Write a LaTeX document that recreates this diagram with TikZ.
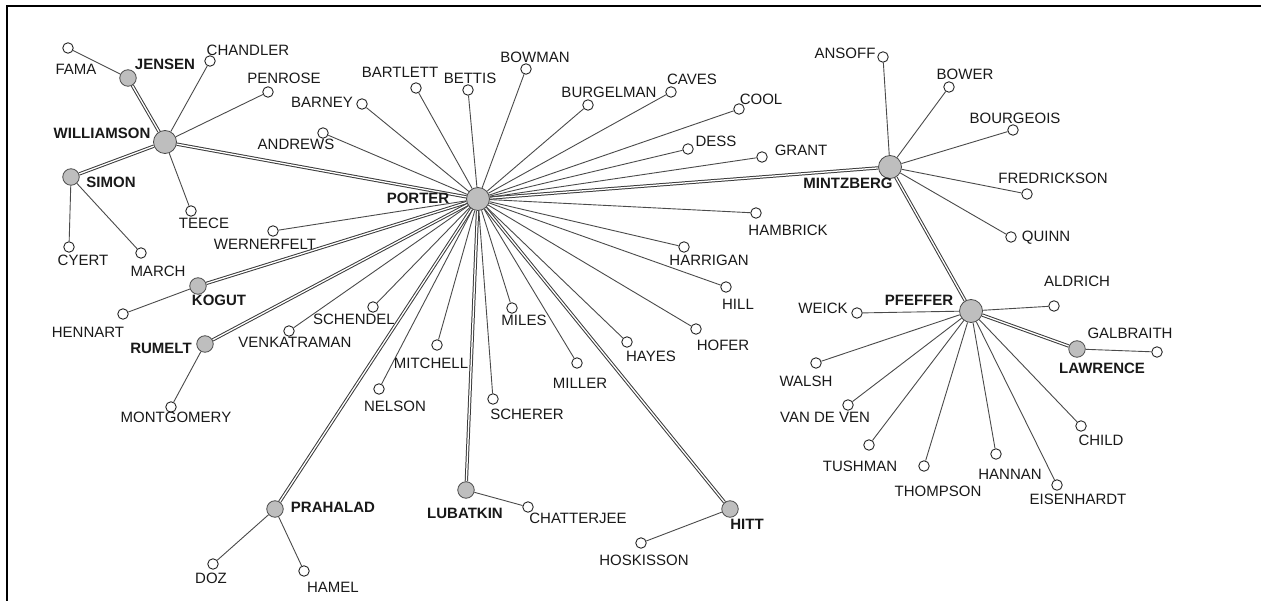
\documentclass[tikz,border=0pt]{standalone}
\usepackage{fontspec}
\setmainfont{Liberation Sans}
\usetikzlibrary{backgrounds}
\definecolor{nodegray}{HTML}{BEBEBE}
\definecolor{edgecol}{HTML}{4A4A4A}
\definecolor{dedgecol}{HTML}{3A3A3A}
\begin{document}
\begin{tikzpicture}[x=1pt,y=-1pt,
  hub/.style={circle,fill=nodegray,draw=edgecol,line width=0.8pt,minimum size=23pt,inner sep=0pt},
  sub/.style={circle,fill=nodegray,draw=edgecol,line width=0.8pt,minimum size=16.5pt,inner sep=0pt},
  leaf/.style={circle,fill=white,draw=black!85,line width=0.9pt,minimum size=10.5pt,inner sep=0pt},
  lab/.style={inner sep=0pt,text height=10.7pt,text depth=0pt,font=\fontsize{15}{15}\selectfont,text=black!90},
  blab/.style={lab,font=\fontsize{15}{15}\selectfont\bfseries},
  edge/.style={draw=edgecol,line width=0.9pt},
  dedge/.style={draw=dedgecol,line width=1pt,double=white,double distance=1.3pt}]
\useasboundingbox (0,0) rectangle (1261,601);
\draw[line width=2pt] (7,601) -- (7,6) -- (1261,6);
% hubs
\node[hub] (porter) at (478,199) {};
\node[hub] (williamson) at (165,142) {};
\node[hub] (mintzberg) at (890,167) {};
\node[hub] (pfeffer) at (971,311) {};
% sub hubs
\node[sub] (jensen) at (128,78) {};
\node[sub] (simon) at (71,177) {};
\node[sub] (kogut) at (198,286) {};
\node[sub] (rumelt) at (205,344) {};
\node[sub] (prahalad) at (275,509) {};
\node[sub] (lubatkin) at (466,490) {};
\node[sub] (hitt) at (730,509) {};
\node[sub] (lawrence) at (1077,349) {};
% leaves
\node[leaf] (fama) at (68,48) {};
\node[leaf] (chandler) at (210,61) {};
\node[leaf] (penrose) at (268,92) {};
\node[leaf] (barney) at (362,104) {};
\node[leaf] (bartlett) at (416,88) {};
\node[leaf] (andrews) at (323,133) {};
\node[leaf] (teece) at (191,211) {};
\node[leaf] (wernerfelt) at (273,231) {};
\node[leaf] (cyert) at (69,247) {};
\node[leaf] (march) at (141,253) {};
\node[leaf] (hennart) at (123,314) {};
\node[leaf] (montgomery) at (171,407) {};
\node[leaf] (venkatraman) at (289,331) {};
\node[leaf] (schendel) at (373,307) {};
\node[leaf] (mitchell) at (437,345) {};
\node[leaf] (nelson) at (379,389) {};
\node[leaf] (miles) at (512,308) {};
\node[leaf] (scherer) at (493,399) {};
\node[leaf] (miller) at (577,363) {};
\node[leaf] (hayes) at (627,342) {};
\node[leaf] (hofer) at (696,329) {};
\node[leaf] (chatterjee) at (528,507) {};
\node[leaf] (hoskisson) at (641,543) {};
\node[leaf] (bettis) at (468,90) {};
\node[leaf] (bowman) at (526,69) {};
\node[leaf] (burgelman) at (588,105) {};
\node[leaf] (caves) at (671,92) {};
\node[leaf] (cool) at (739,109) {};
\node[leaf] (dess) at (688,149) {};
\node[leaf] (grant) at (762,157) {};
\node[leaf] (hambrick) at (756,213) {};
\node[leaf] (harrigan) at (684,247) {};
\node[leaf] (hill) at (726,287) {};
\node[leaf] (ansoff) at (883,57) {};
\node[leaf] (bower) at (949,87) {};
\node[leaf] (bourgeois) at (1013,130) {};
\node[leaf] (fredrickson) at (1027,194) {};
\node[leaf] (quinn) at (1011,237) {};
\node[leaf] (aldrich) at (1054,306) {};
\node[leaf] (galbraith) at (1157,352) {};
\node[leaf] (weick) at (857,313) {};
\node[leaf] (walsh) at (816,363) {};
\node[leaf] (vandeven) at (848,405) {};
\node[leaf] (tushman) at (869,445) {};
\node[leaf] (thompson) at (924,466) {};
\node[leaf] (hannan) at (996,454) {};
\node[leaf] (eisenhardt) at (1057,485) {};
\node[leaf] (child) at (1081,426) {};
\node[leaf] (doz) at (213,564) {};
\node[leaf] (hamel) at (304,571) {};
% labels
\node[blab] (l-porter) at (418,198) {PORTER};
\node[blab] (l-williamson) at (102,133) {WILLIAMSON};
\node[blab] (l-mintzberg) at (848,183) {MINTZBERG};
\node[blab] (l-pfeffer) at (919,300) {PFEFFER};
\node[blab] (l-jensen) at (165,64) {JENSEN};
\node[blab] (l-simon) at (111,182) {SIMON};
\node[blab] (l-kogut) at (219,300) {KOGUT};
\node[blab] (l-rumelt) at (161,348) {RUMELT};
\node[blab] (l-prahalad) at (333,507) {PRAHALAD};
\node[blab] (l-lubatkin) at (465,513) {LUBATKIN};
\node[blab] (l-hitt) at (747,524) {HITT};
\node[blab] (l-lawrence) at (1102,368) {LAWRENCE};
\node[lab] (l-fama) at (76,69) {FAMA};
\node[lab] (l-chandler) at (248,50) {CHANDLER};
\node[lab] (l-penrose) at (284,78) {PENROSE};
\node[lab] (l-barney) at (322,102) {BARNEY};
\node[lab] (l-bartlett) at (400,72) {BARTLETT};
\node[lab] (l-andrews) at (296,144) {ANDREWS};
\node[lab] (l-teece) at (204,223) {TEECE};
\node[lab] (l-wernerfelt) at (265,244) {WERNERFELT};
\node[lab] (l-cyert) at (83,260) {CYERT};
\node[lab] (l-march) at (158,271) {MARCH};
\node[lab] (l-hennart) at (88,332) {HENNART};
\node[lab] (l-montgomery) at (176,417) {MONTGOMERY};
\node[lab] (l-venkatraman) at (295,342) {VENKATRAMAN};
\node[lab] (l-schendel) at (354,319) {SCHENDEL};
\node[lab] (l-mitchell) at (431,363) {MITCHELL};
\node[lab] (l-nelson) at (395,406) {NELSON};
\node[lab] (l-miles) at (524,320) {MILES};
\node[lab] (l-scherer) at (527,414) {SCHERER};
\node[lab] (l-miller) at (580,383) {MILLER};
\node[lab] (l-hayes) at (651,356) {HAYES};
\node[lab] (l-hofer) at (723,345) {HOFER};
\node[lab] (l-chatterjee) at (578,518) {CHATTERJEE};
\node[lab] (l-hoskisson) at (644,560) {HOSKISSON};
\node[lab] (l-bettis) at (470,78) {BETTIS};
\node[lab] (l-bowman) at (535,57) {BOWMAN};
\node[lab] (l-burgelman) at (609,92) {BURGELMAN};
\node[lab] (l-caves) at (692,79) {CAVES};
\node[lab] (l-cool) at (761,99) {COOL};
\node[lab] (l-dess) at (716,141) {DESS};
\node[lab] (l-grant) at (801,150) {GRANT};
\node[lab] (l-hambrick) at (788,230) {HAMBRICK};
\node[lab] (l-harrigan) at (709,260) {HARRIGAN};
\node[lab] (l-hill) at (738,304) {HILL};
\node[lab] (l-ansoff) at (845,53) {ANSOFF};
\node[lab] (l-bower) at (965,74) {BOWER};
\node[lab] (l-bourgeois) at (1015,118) {BOURGEOIS};
\node[lab] (l-fredrickson) at (1053,178) {FREDRICKSON};
\node[lab] (l-quinn) at (1046,236) {QUINN};
\node[lab] (l-aldrich) at (1077,281) {ALDRICH};
\node[lab] (l-galbraith) at (1130,333) {GALBRAITH};
\node[lab] (l-weick) at (823,308) {WEICK};
\node[lab] (l-walsh) at (806,381) {WALSH};
\node[lab] (l-vandeven) at (825,417) {VAN DE VEN};
\node[lab] (l-tushman) at (860,466) {TUSHMAN};
\node[lab] (l-thompson) at (938,491) {THOMPSON};
\node[lab] (l-hannan) at (1010,474) {HANNAN};
\node[lab] (l-eisenhardt) at (1078,499) {EISENHARDT};
\node[lab] (l-child) at (1101,440) {CHILD};
\node[lab] (l-doz) at (211,578) {DOZ};
\node[lab] (l-hamel) at (333,587) {HAMEL};
% edges
\begin{pgfonlayer}{background}
\foreach \t in {williamson,mintzberg,kogut,rumelt,prahalad,lubatkin,hitt}
  \draw[dedge] (porter) -- (\t);
\foreach \t in {barney,bartlett,bettis,bowman,burgelman,caves,cool,dess,grant,andrews,wernerfelt,hambrick,harrigan,hill,hofer,hayes,miller,miles,scherer,mitchell,nelson,schendel,venkatraman}
  \draw[edge] (porter) -- (\t);
\draw[dedge] (williamson) -- (jensen);
\draw[dedge] (williamson) -- (simon);
\foreach \t in {chandler,penrose,teece}
  \draw[edge] (williamson) -- (\t);
\draw[edge] (jensen) -- (fama);
\draw[edge] (simon) -- (cyert);
\draw[edge] (simon) -- (march);
\draw[edge] (kogut) -- (hennart);
\draw[edge] (rumelt) -- (montgomery);
\draw[edge] (prahalad) -- (doz);
\draw[edge] (prahalad) -- (hamel);
\draw[edge] (lubatkin) -- (chatterjee);
\draw[edge] (hitt) -- (hoskisson);
\draw[dedge] (mintzberg) -- (pfeffer);
\foreach \t in {ansoff,bower,bourgeois,fredrickson,quinn}
  \draw[edge] (mintzberg) -- (\t);
\draw[dedge] (pfeffer) -- (lawrence);
\foreach \t in {weick,aldrich,walsh,vandeven,tushman,thompson,hannan,eisenhardt,child}
  \draw[edge] (pfeffer) -- (\t);
\draw[edge] (lawrence) -- (galbraith);
\end{pgfonlayer}
\end{tikzpicture}
\end{document}
